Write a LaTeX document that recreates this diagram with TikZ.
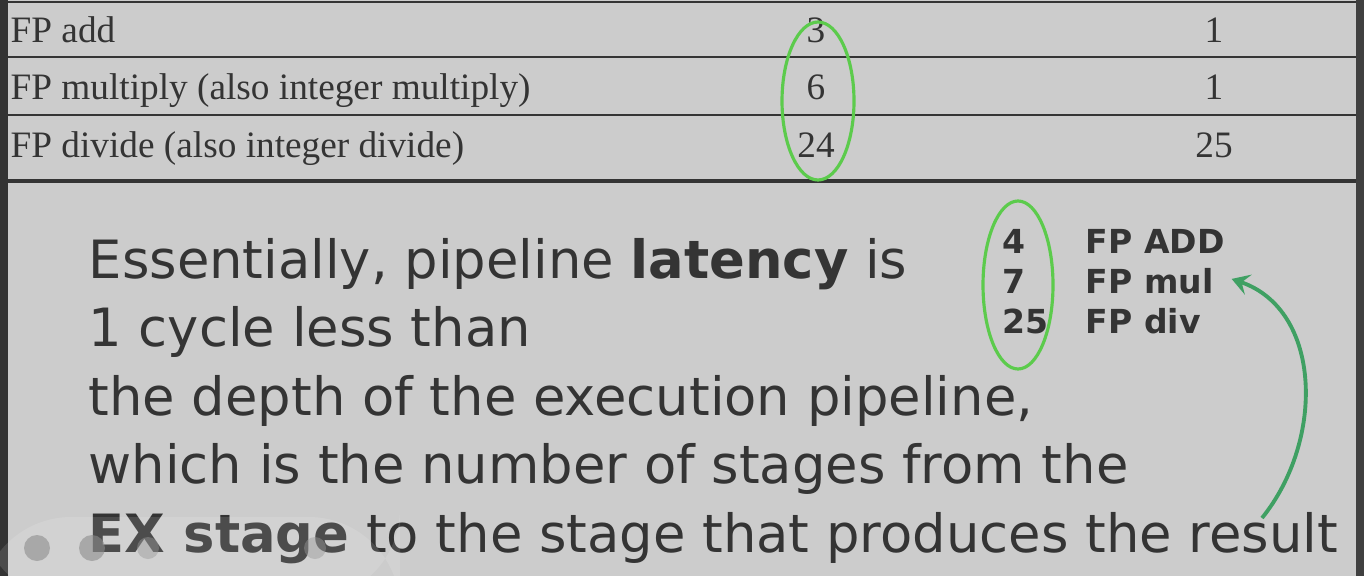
\documentclass[tikz,border=0pt]{standalone}
\usepackage{fontspec}
\setmainfont{Liberation Serif}
\newfontfamily\slidefont{DejaVu Sans}
\usepackage{xcolor}
\usetikzlibrary{arrows.meta}
\tikzset{>=latex}
\definecolor{slidebg}{HTML}{CCCCCC}
\definecolor{ink}{HTML}{343434}
\definecolor{ringgreen}{HTML}{5CCB4C}
\definecolor{arrowgreen}{HTML}{3FA063}
\tikzstyle{cell}=[anchor=base,inner sep=0pt,text=ink,font=\fontsize{10.6}{12}\selectfont]
\tikzstyle{rowname}=[cell,anchor=base west]
\tikzstyle{rule}=[ink,line width=0.6pt]
\tikzstyle{textline}=[anchor=base west,inner sep=0pt,text=ink,font=\slidefont\fontsize{15}{17}\selectfont]
\tikzstyle{listitem}=[anchor=base west,inner sep=0pt,text=ink,font=\slidefont\bfseries\fontsize{9.4}{11}\selectfont]
\tikzstyle{ring}=[ringgreen,line width=0.9pt]
\tikzstyle{gline}=[arrowgreen,line width=1.1pt,-{Stealth[length=5pt,width=6pt,inset=2pt]}]

\begin{document}
\begin{tikzpicture}[x=0.01cm,y=-0.01cm]
      \useasboundingbox (0,0) rectangle (1364,576);
      \fill[slidebg] (0,0) rectangle (1364,576);
      \fill[black!80] (0,0) rectangle (8,576);
      \fill[black!75] (1356,0) rectangle (1364,576);

      % TABLE
      \draw[rule] (8,2) -- (1356,2);
      \draw[rule] (8,57) -- (1356,57);
      \draw[rule] (8,115) -- (1356,115);
      \draw[ink,line width=1.3pt] (8,181) -- (1356,181);
      \node[rowname] (add)  at (10,43)  {FP add};
      \node[rowname] (mult) at (10,100) {FP multiply (also integer multiply)};
      \node[rowname] (div)  at (10,158) {FP divide (also integer divide)};
      \node[cell] (lat1) at (816,43)  {3};
      \node[cell] (lat2) at (816,100) {6};
      \node[cell] (lat3) at (816,158) {24};
      \node[cell] (ii1) at (1214,43)  {1};
      \node[cell] (ii2) at (1214,100) {1};
      \node[cell] (ii3) at (1214,158) {25};
      \draw[ring] (818,101) ellipse [x radius=36, y radius=79];

      % SLIDE TEXT
      \node[textline] (l1) at (88,278) {Essentially, pipeline \textbf{latency} is};
      \node[textline] (l2) at (88,346) {1 cycle less than};
      \node[textline] (l3) at (88,415) {the depth of the execution pipeline,};
      \node[textline] (l4) at (88,483) {which is the number of stages from the};
      \node[textline] (l5) at (88,552) {\textbf{EX stage} to the stage that produces the result};

      % DEPTH LIST
      \node[listitem] (n1) at (1002,253) {4};
      \node[listitem] (n2) at (1002,293) {7};
      \node[listitem] (n3) at (1002,333) {25};
      \node[listitem] (fadd) at (1085,253) {FP ADD};
      \node[listitem] (fmul) at (1085,293) {FP mul};
      \node[listitem] (fdiv) at (1085,333) {FP div};
      \draw[ring] (1018,285) ellipse [x radius=35, y radius=84];
      \coordinate (tail) at (1262,518);
      \draw[gline] (tail) .. controls (1325,440) and (1322,310) .. ([xshift=5pt,yshift=0.5pt]fmul.east);

      % PLAYER
      \fill[white,opacity=0.12,rounded corners=26] (-20,517) rectangle (400,600);
      \foreach \cx in {37,92} \fill[black!45,opacity=0.6] (\cx,548) circle (13);
      \foreach \cx in {148,315} \fill[black!40,opacity=0.45] (\cx,548) circle (11);
\end{tikzpicture}
\end{document}
